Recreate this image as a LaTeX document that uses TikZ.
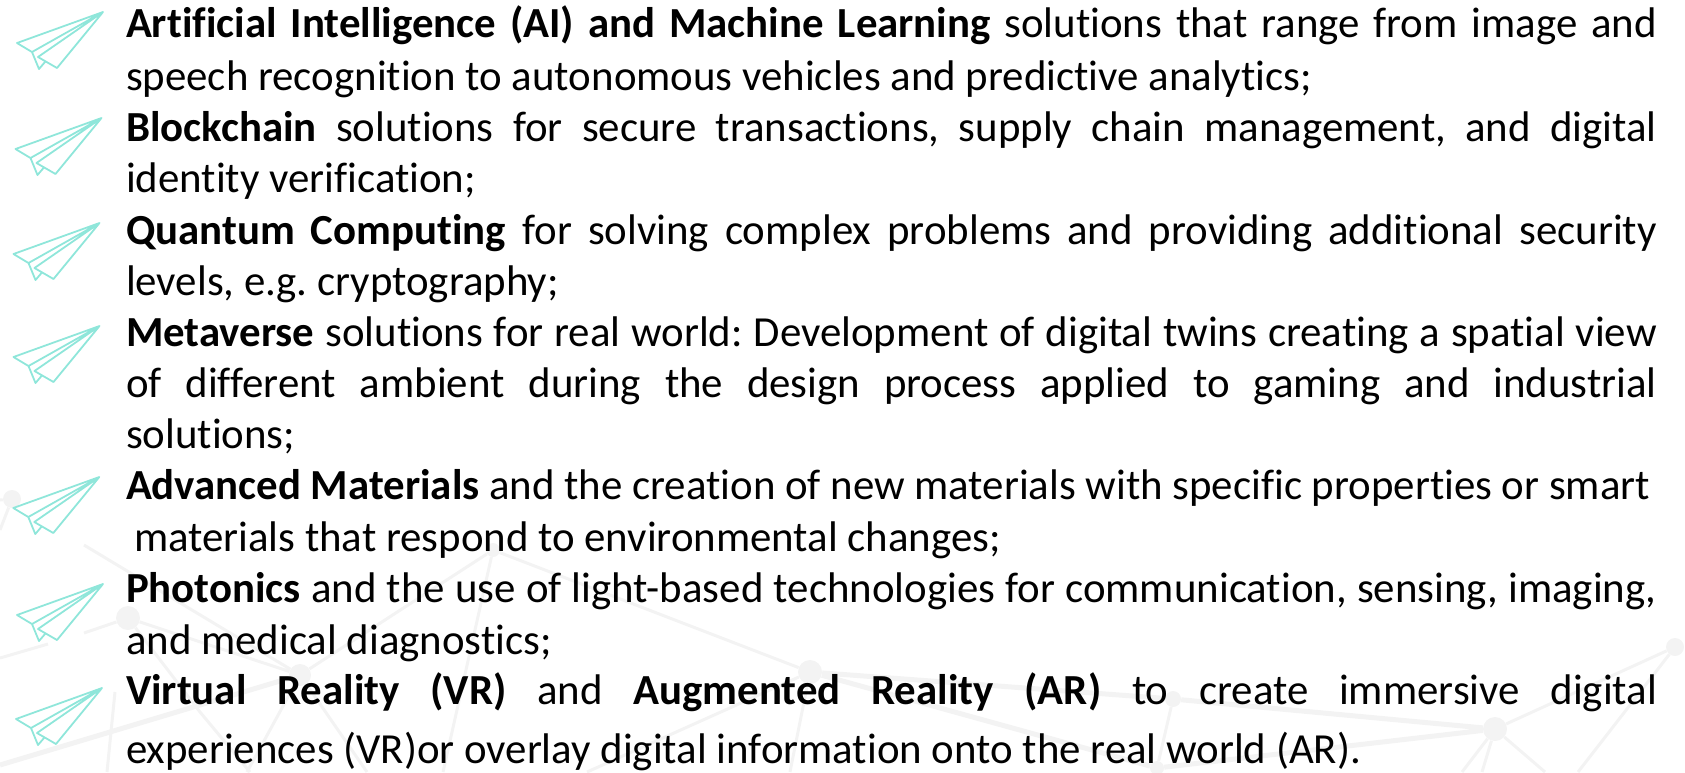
\documentclass[tikz,border=0pt]{standalone}
\usepackage{fontspec}
\setmainfont[RawFeature={-liga;-clig}]{Carlito}
\definecolor{planeteal}{HTML}{8FE6DA}
\definecolor{netgray}{HTML}{F3F3F3}
\newcommand{\jl}[1]{\makebox[1531pt][s]{#1}}
\tikzset{
  textline/.style={anchor=base west,inner sep=0pt,outer sep=0pt,font=\fontsize{42.85}{50}\selectfont\frenchspacing,text=black},
  netline/.style={draw=netgray,line width=3pt},
  netthick/.style={draw=netgray,line width=5pt},
  netdot/.style={circle,fill=netgray,inner sep=0pt},
  plane/.pic={
    \draw[draw=planeteal,line width=1.8pt,line join=round,line cap=round]
      (0,0) -- (-86,31) -- (-71,40) -- (0,0)
      (0,0) -- (-65,45) -- (-46,56) -- cycle
      (-71,40) -- (-64,57) -- (-58,50);
  }
}
\begin{document}
\begin{tikzpicture}[x=1pt,y=-1pt]
\useasboundingbox (0,0) rectangle (1685,772);
% background network
\node[netdot,minimum size=18pt] (nA) at (12,499) {};
\node[netdot,minimum size=24pt] (nB) at (128,618) {};
\node[netdot,minimum size=22pt] (nC) at (300,675) {};
\node[netdot,minimum size=14pt] (nD) at (493,550) {};
\node[netdot,minimum size=24pt] (nE) at (810,672) {};
\node[netdot,minimum size=16pt] (nF) at (1173,699) {};
\node[netdot,minimum size=24pt] (nG) at (1495,729) {};
\node[netdot,minimum size=18pt] (nI) at (1675,647) {};
\node[netdot,minimum size=14pt] (nH) at (1157,768) {};
\coordinate (a1) at (0,530);
\coordinate (a2) at (0,500);
\coordinate (c0) at (84,545);
\coordinate (b1) at (84,633);
\coordinate (f1) at (0,658);
\coordinate (f2) at (48,644);
\coordinate (l0) at (0,765);
\coordinate (b2) at (250,772);
\coordinate (b3) at (200,712);
\coordinate (v1) at (115,692);
\coordinate (v2) at (107,772);
\coordinate (c1) at (247,772);
\coordinate (c2) at (367,772);
\coordinate (d1) at (443,772);
\coordinate (e1) at (790,772);
\coordinate (e2) at (587,772);
\coordinate (g1) at (1482,772);
\coordinate (g2) at (1545,772);
\coordinate (g3) at (1462,772);
\coordinate (i1) at (1578,772);
\draw[netline] (nA) -- (a1) (nA) -- (a2) (c0) -- (nC) (nB) -- (b1) (f1) -- (f2)
  (nB) -- (nC) (nB) -- (b3) -- (b2) (v1) -- (v2) (nC) -- (c1) (nC) -- (c2) (nC) -- (nD)
  (nD) -- (nE) (nD) -- (d1) (nE) -- (e1) (nE) -- (e2) (nF) -- (nH)
  (nG) -- (g1) (nG) -- (g2) (nG) -- (g3) (nG) -- (nI) (nI) -- (i1);
\draw[netthick] (l0) -- (nC) (nE) -- (nF) -- (nG) (nE) -- (nH) -- (nG);
% planes
\pic at (103,12) {plane};
\pic at (101.5,118) {plane};
\pic at (99.5,223) {plane};
\pic at (99.5,326) {plane};
\pic at (99.3,477) {plane};
\pic at (103,584) {plane};
\pic at (102,688) {plane};
% text
\node[textline] (t1) at (126,37.5) {\jl{\textbf{Artificial Intelligence (AI) and Machine Learning} solutions that range from image and}};
\node[textline] (t2) at (126,90) {speech recognition to autonomous vehicles and predictive analytics;};
\node[textline] (t3) at (126,141.5) {\jl{\textbf{Blockchain} solutions for secure transactions, supply chain management, and digital}};
\node[textline] (t4) at (126,192.5) {identity verification;};
\node[textline] (t5) at (126,244) {\jl{\textbf{Quantum Computing} for solving complex problems and providing additional security}};
\node[textline] (t6) at (126,295) {levels, e.g. cryptography;};
\node[textline] (t7) at (126,346.5) {\jl{\textbf{Metaverse} solutions for real world: Development of digital twins creating a spatial view}};
\node[textline] (t8) at (126,397) {\jl{of different ambient during the design process applied to gaming and industrial}};
\node[textline] (t9) at (126,448) {solutions;};
\node[textline] (t10) at (126,499) {\textbf{Advanced Materials} and the creation of new materials with specific properties or smart};
\node[textline] (t11) at (134,551.5) {materials that respond to environmental changes;};
\node[textline] (t12) at (126,602.5) {\jl{\textbf{Photonics} and the use of light-based technologies for communication, sensing, imaging,}};
\node[textline] (t13) at (126,654) {and medical diagnostics;};
\node[textline] (t14) at (126,704) {\jl{\textbf{Virtual Reality (VR)} and \textbf{Augmented Reality (AR)} to create immersive digital}};
\node[textline] (t15) at (126,763) {experiences (VR)or overlay digital information onto the real world (AR).};
\end{tikzpicture}
\end{document}
